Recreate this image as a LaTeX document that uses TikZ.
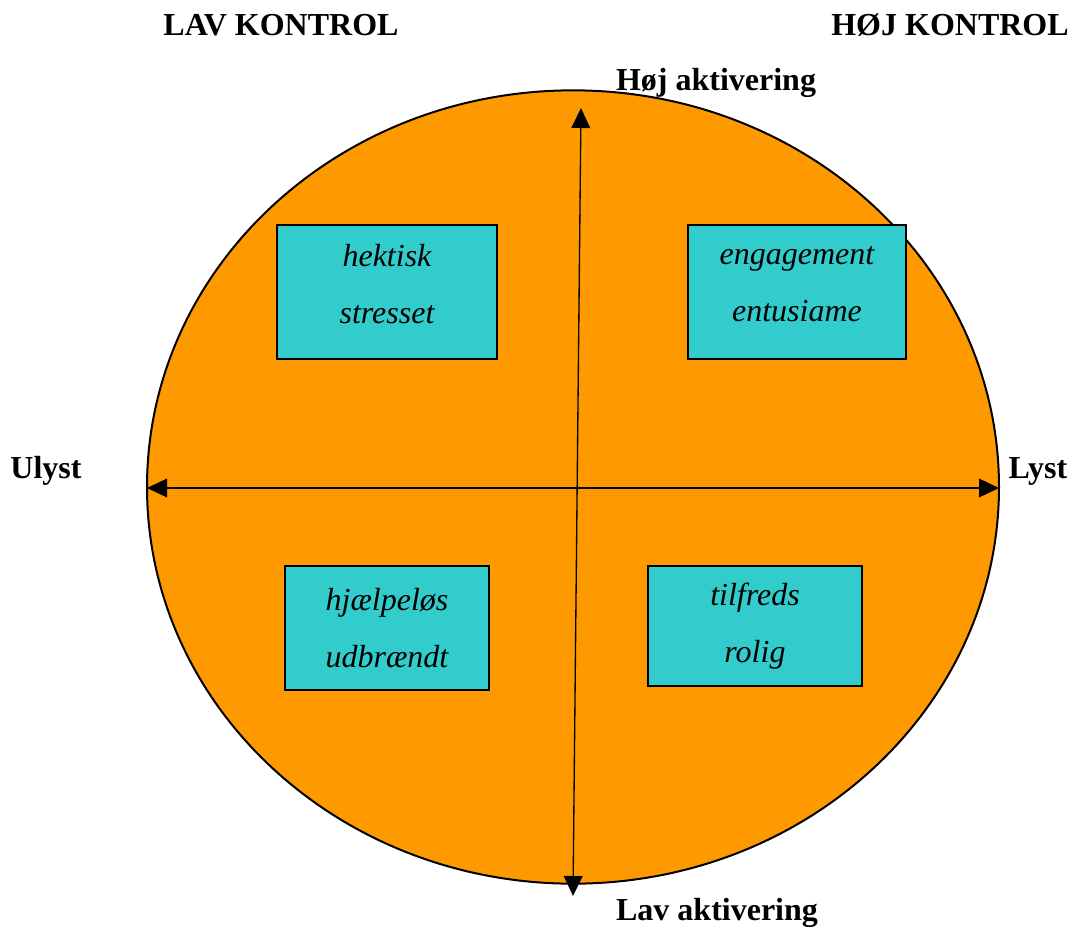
\documentclass[tikz,border=0pt]{standalone}
\usepackage{fontspec}
\setmainfont{Liberation Serif}
\usetikzlibrary{arrows.meta, shapes}

\definecolor{circleorange}{HTML}{FF9900}
\definecolor{boxcyan}{HTML}{33CCCC}

\begin{document}
\begin{tikzpicture}[x=0.75pt, y=-0.75pt, >={Triangle[length=15pt, width=14pt]}, line width=1pt,
		mood/.style={draw, line width=1.5pt, fill=boxcyan, align=center, font=\fontsize{24}{43}\selectfont\itshape},
		axislabel/.style={anchor=base, font=\fontsize{24}{29}\selectfont\bfseries}]
		\useasboundingbox (0,0) rectangle (1072,926);
		\node[ellipse, draw, line width=1.5pt, fill=circleorange, minimum width=639pt, minimum height=595pt, inner sep=0] (circ) at (573,487) {};
		
		\node[mood, text depth=12pt, minimum width=165pt, minimum height=100pt] (hektisk) at (387,292) {hektisk\\stresset};
		\node[mood, text depth=12pt, minimum width=164pt, minimum height=100pt] (engage) at (797,292) {engagement\\entusiame};
		\node[mood, minimum width=153pt, minimum height=93pt] (hjaelp) at (387,628) {hjælpeløs\\udbrændt};
		\node[mood, minimum width=160pt, minimum height=90pt] (tilfreds) at (755,626) {tilfreds\\rolig};
		
		\coordinate (top) at (581,108);
		\coordinate (bottom) at (573,896);
		\coordinate (left) at (147,488);
		\coordinate (right) at (999,488);
		
		\node[axislabel] (lavk) at (281,35) {LAV KONTROL};
		\node[axislabel] (hojk) at (950,35) {HØJ KONTROL};
		\node[axislabel] (hoja) at (716,90) {Høj aktivering};
		\node[axislabel] (lava) at (717,920) {Lav aktivering};
		\node[axislabel] (ulyst) at (46,478) {Ulyst};
		\node[axislabel] (lyst) at (1038,478) {Lyst};
		
		\path (bottom) edge[<->] (top)
			(left) edge[<->] (right);
	\end{tikzpicture}
\end{document}
